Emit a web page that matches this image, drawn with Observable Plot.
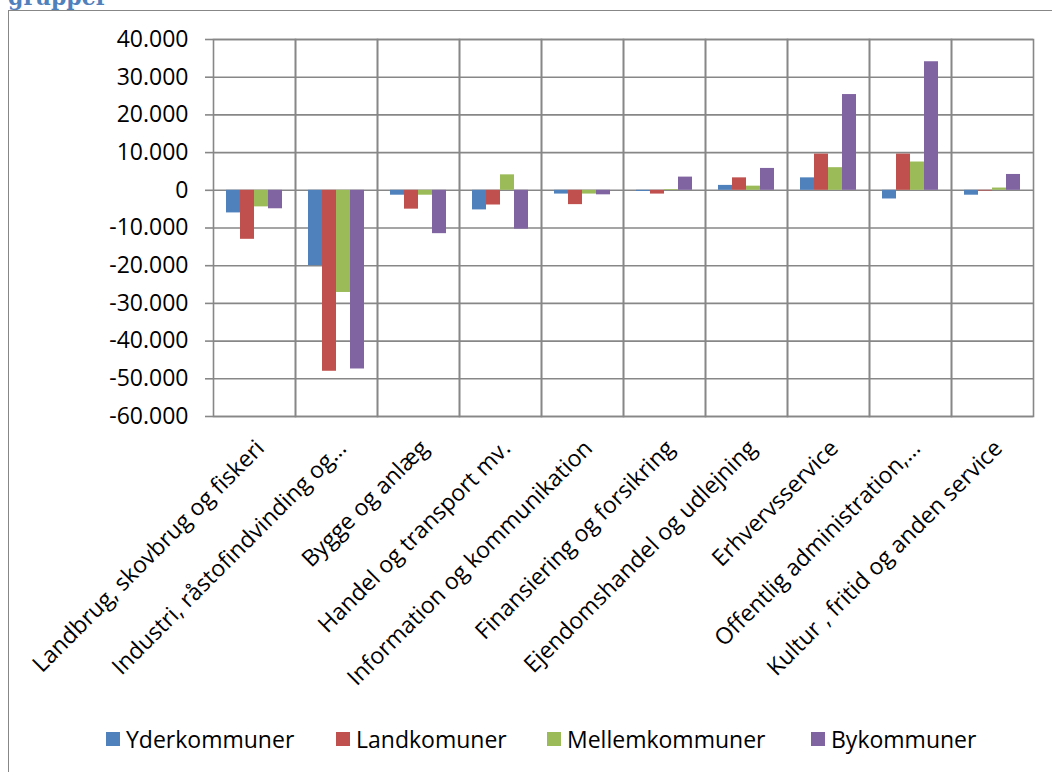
<!DOCTYPE html>
<html>
<head>
<meta charset="utf-8">
<script src="https://cdn.jsdelivr.net/npm/d3@7"></script>
<script src="https://cdn.jsdelivr.net/npm/@observablehq/plot@0.6"></script>
<style>
  html, body { margin: 0; padding: 0; background: #fff; overflow: hidden; }
  body { width: 1052px; height: 772px; position: relative; font-family: "Open Sans", sans-serif; }
  #heading { position: absolute; left: 8px; top: -14px; font-family: "DejaVu Serif", serif; font-weight: bold; font-size: 22px; color: #4F81BD; line-height: 22px; }
  #box { position: absolute; left: 8px; top: 10px; width: 1100px; height: 800px; border-left: 1.5px solid #878787; border-top: 1.5px solid #878787; }
  #chart { position: absolute; left: 0; top: 0; }
  #legend { position: absolute; left: 0; top: 724px; width: 1052px; height: 30px; }
  .item { position: absolute; top: 0; display: flex; align-items: center; height: 30px; font-size: 23px; color: #000; }
  .sw { width: 14px; height: 14px; margin-right: 6px; }
</style>
</head>
<body>
<div id="heading">grupper</div>
<div id="box"></div>
<div id="chart"></div>
<div id="legend"></div>
<script>
const categories = [
  "Landbrug, skovbrug og fiskeri",
  "Industri, råstofindvinding og…",
  "Bygge og anlæg",
  "Handel og transport mv.",
  "Information og kommunikation",
  "Finansiering og forsikring",
  "Ejendomshandel og udlejning",
  "Erhvervsservice",
  "Offentlig administration,…",
  "Kultur , fritid og anden service"
];
const series = ["Yderkommuner", "Landkomuner", "Mellemkommuner", "Bykommuner"];
const colors = ["#4F81BD", "#C0504D", "#9BBB59", "#8064A2"];

const yderkommuner   = [-6000, -20000, -1300, -5200, -1000, -300, 1300, 3300, -2300, -1300];
const landkomuner    = [-13000, -48000, -5000, -3900, -3800, -1000, 3300, 9600, 9600, -200];
const mellemkommuner = [-4400, -27100, -1300, 4100, -1000, 200, 1100, 6000, 7500, 600];
const bykommuner     = [-4900, -47400, -11500, -10300, -1200, 3500, 5800, 25400, 34100, 4200];

const yTicks = [40000, 30000, 20000, 10000, 0, -10000, -20000, -30000, -40000, -50000, -60000];

const seriesValues = [yderkommuner, landkomuner, mellemkommuner, bykommuner];
const data = [];
categories.forEach((c, i) => {
  series.forEach((s, j) => data.push({category: c, series: s, value: seriesValues[j][i]}));
});

const locale = d3.formatLocale({decimal: ",", thousands: ".", grouping: [3], currency: ["", ""], minus: "-"});
const fmt = locale.format(",");

const grid = "#878787";

const chart = Plot.plot({
  width: 1052,
  height: 716,
  marginLeft: 211,
  marginRight: 17,
  marginTop: 39,
  marginBottom: 300,
  style: {fontFamily: "Open Sans, sans-serif", fontSize: "23px", color: "#000", background: "transparent"},
  fx: {domain: categories, paddingInner: 0, paddingOuter: 0, label: null},
  x: {domain: series, paddingInner: 0, paddingOuter: 0.78, axis: null},
  y: {domain: [-60000, 40000], label: null},
  color: {domain: series, range: colors},
  marks: [
    Plot.gridY(yTicks, {stroke: grid, strokeOpacity: 1, strokeWidth: 1.6}),
    Plot.frame({stroke: grid, strokeWidth: 1.6}),
    Plot.barY(data, {fx: "category", x: "series", y: "value", fill: "series"}),
    Plot.axisY(yTicks, {tickFormat: fmt, tickSize: 8, tickPadding: 17, stroke: grid, strokeWidth: 1.6, fontSize: 23}),
    Plot.axisFx({anchor: "bottom", tickSize: 0, tickPadding: 28, tickRotate: -45, dx: 6, fontSize: 23, label: null})
  ]
});
document.getElementById("chart").appendChild(chart);

const legend = document.getElementById("legend");
const lefts = [106, 336, 547, 811];
series.forEach((s, i) => {
  const it = document.createElement("div");
  it.className = "item";
  it.style.left = lefts[i] + "px";
  const sw = document.createElement("span");
  sw.className = "sw";
  sw.style.background = colors[i];
  const t = document.createElement("span");
  t.textContent = s;
  it.appendChild(sw);
  it.appendChild(t);
  legend.appendChild(it);
});
</script>
</body>
</html>
